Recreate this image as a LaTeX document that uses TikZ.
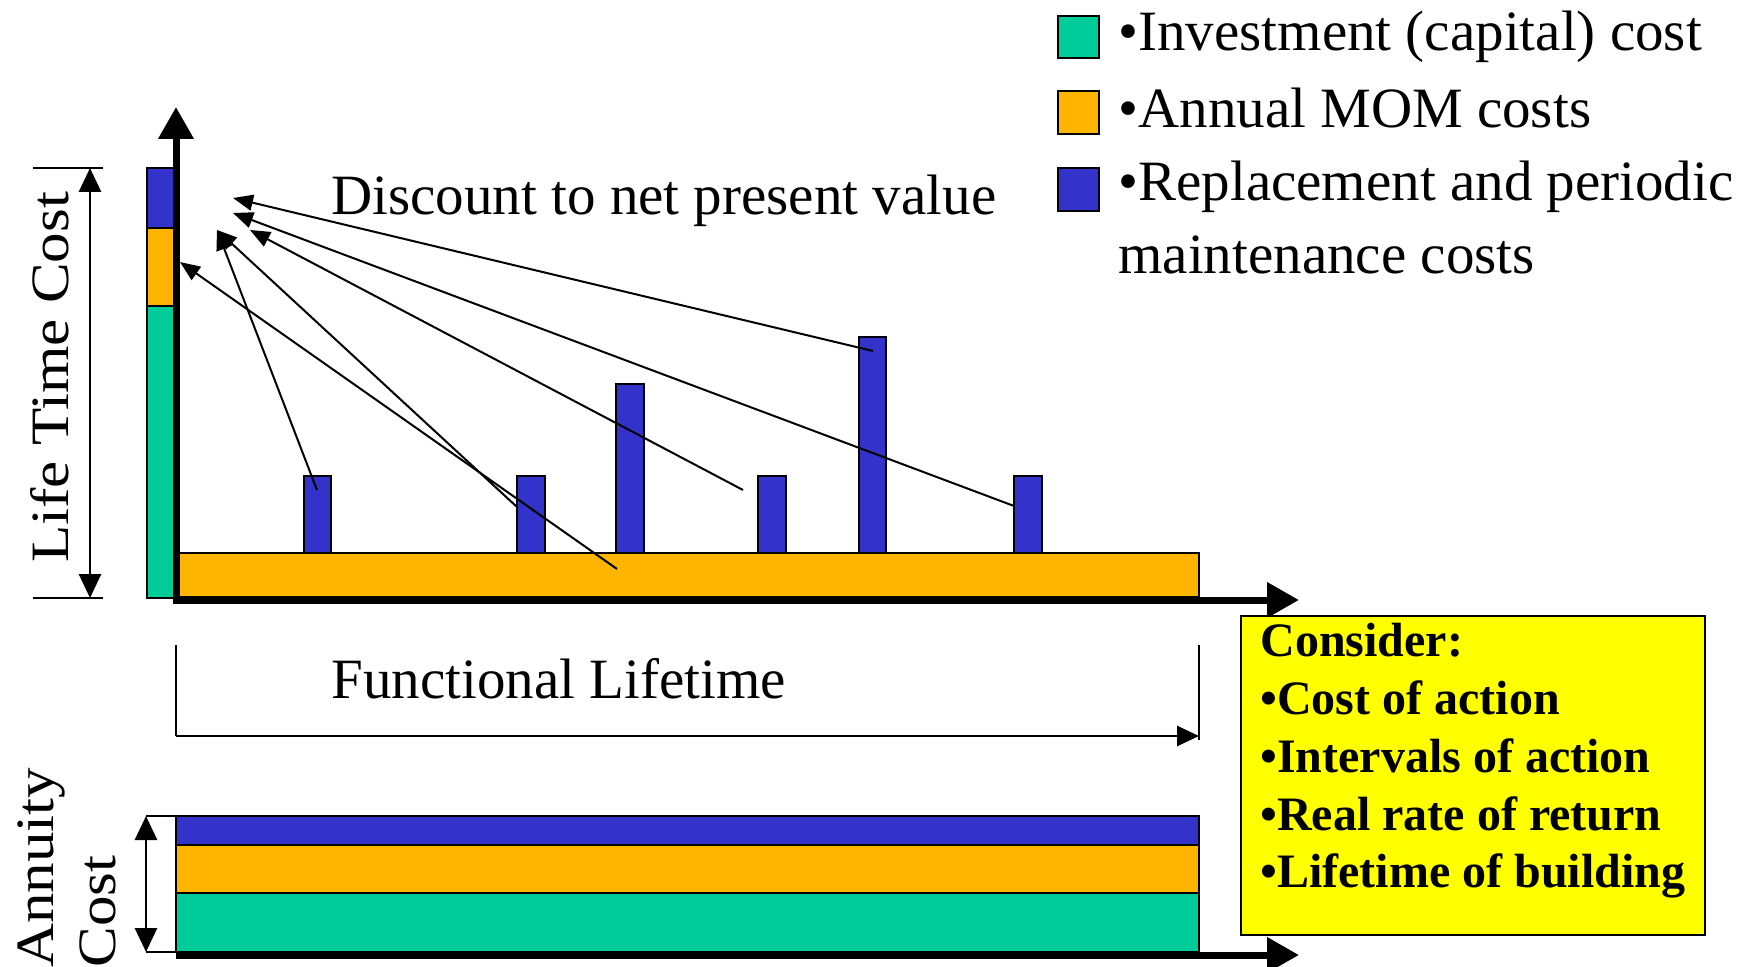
\documentclass[tikz,border=0pt]{standalone}
\usepackage{graphicx}
\usepackage{fontspec}
\setmainfont{Liberation Serif}
\usetikzlibrary{arrows.meta}
\definecolor{cgreen}{RGB}{0,204,153}
\definecolor{corange}{RGB}{255,180,0}
\definecolor{cblue}{RGB}{51,51,204}
\definecolor{cyellow}{RGB}{255,255,0}
\newcommand{\stretchtxt}[1]{\scalebox{1.13}[1]{#1}}
\begin{document}
\begin{tikzpicture}[x=0.5pt,y=-0.5pt,
  bar/.style={draw=black,line width=0.6pt},
  axisline/.style={line width=3.5pt,line join=miter},
  bigtip/.style={-{Triangle[length=16pt,width=17pt]}},
  disc/.style={line width=1pt,-{Triangle[length=10pt,width=8pt]}},
  dimarrow/.style={line width=1.4pt,{Triangle[length=12pt,width=11pt]}-{Triangle[length=12pt,width=11pt]}},
  tick/.style={line width=0.7pt},
  big/.style={inner sep=0pt,font=\fontsize{28.5}{37}\selectfont},
  sidetxt/.style={inner sep=0pt,rotate=90,anchor=base west,font=\fontsize{27}{34}\selectfont},
  boxtxt/.style={inner sep=0pt,font=\fontsize{24}{28.8}\selectfont\bfseries}]
\useasboundingbox (0,0) rectangle (1744,967);

% ---------- legend ----------
\filldraw[fill=cgreen,bar] (1058,16) rectangle (1099,58);
\filldraw[fill=corange,bar] (1058,91) rectangle (1099,134);
\filldraw[fill=cblue,bar] (1058,168) rectangle (1099,211);
\node[big,anchor=base west] (leg1) at (1118,51) {•Investment (capital) cost};
\node[big,anchor=base west] (leg2) at (1118,128) {•Annual MOM costs};
\node[big,anchor=base west] (leg3) at (1118,201) {•Replacement and periodic};
\node[big,anchor=base west] (leg4) at (1118,274) {maintenance costs};

% ---------- life time cost chart ----------
% left stacked bar
\filldraw[fill=cgreen,bar] (147,306) rectangle (174,598);
\filldraw[fill=corange,bar] (147,228) rectangle (174,306);
\filldraw[fill=cblue,bar] (147,168) rectangle (174,228);
% base orange bar
\filldraw[fill=corange,bar] (176,553) rectangle (1199,597);
% blue bars
\filldraw[fill=cblue,bar] (304,476) rectangle (331,553);
\filldraw[fill=cblue,bar] (517,476) rectangle (545,553);
\filldraw[fill=cblue,bar] (616,384) rectangle (644,553);
\filldraw[fill=cblue,bar] (758,476) rectangle (786,553);
\filldraw[fill=cblue,bar] (859,337) rectangle (886,553);
\filldraw[fill=cblue,bar] (1014,476) rectangle (1042,553);
% axes
\draw[axisline,{Triangle[length=16pt,width=17pt]}-{Triangle[length=16pt,width=17pt]}] (176,107) -- (176,600) -- (1299,600);

% discount arrows
\coordinate (t1) at (233,198);
\coordinate (t2) at (233,213);
\coordinate (t3) at (250,230);
\coordinate (t4) at (217,230);
\coordinate (t5) at (180,262);
\coordinate (s1) at (873,351);
\coordinate (s2) at (1014,506);
\coordinate (s3) at (743,490);
\coordinate (s4) at (317,490);
\coordinate (s5) at (517,507);
\coordinate (s6) at (617,569);
\draw[disc] (s1) -- (t1);
\draw[disc] (s2) -- (t2);
\draw[disc] (s3) -- (t3);
\draw[disc] (s4) -- (t4);
\draw[disc] (s5) -- (t4);
\draw[disc] (s6) -- (t5);
\node[big,anchor=base west] (disclbl) at (331,215) {Discount to net present value};

% Life Time Cost dimension
\coordinate (ltop) at (90,168);
\coordinate (lbot) at (90,598);
\draw[tick] (33,168) -- (103,168);
\draw[tick] (33,598) -- (103,598);
\draw[dimarrow] (ltop) -- (lbot);
\node[sidetxt] (ltc) at (68,563) {\stretchtxt{Life Time Cost}};

% Functional lifetime dimension
\coordinate (fl) at (176,736);
\coordinate (fr) at (1199,736);
\draw[tick,line width=0.9pt] (176,645) -- (fl);
\draw[tick,line width=0.9pt] (1199,645) -- (1199,740);
\draw[line width=1.4pt,-{Triangle[length=11pt,width=10pt]}] (fl) -- (fr);
\node[big,anchor=base west] (fltxt) at (331,698) {Functional Lifetime};

% ---------- annuity chart ----------
\filldraw[fill=cgreen,bar] (176,893) rectangle (1199,952);
\filldraw[fill=corange,bar] (176,845) rectangle (1199,893);
\filldraw[fill=cblue,bar] (176,816) rectangle (1199,845);
\draw[axisline,bigtip] (176,955) -- (1299,955);
\coordinate (atop) at (146,816);
\coordinate (abot) at (146,952);
\draw[tick] (146,816) -- (176,816);
\draw[tick] (146,952) -- (176,952);
\draw[dimarrow] (atop) -- (abot);
\node[sidetxt] (ann1) at (53,968) {\stretchtxt{Annuity}};
\node[sidetxt] (ann2) at (115,968) {\stretchtxt{Cost}};

% ---------- consider box ----------
\node[draw=black,line width=0.9pt,fill=cyellow,minimum width=232pt,minimum height=159.5pt,anchor=north west,inner sep=0pt] (box) at (1240,615) {};
\node[boxtxt,anchor=base west] (c1) at (1260,656) {Consider:};
\node[boxtxt,anchor=base west] (c2) at (1260,714) {•Cost of action};
\node[boxtxt,anchor=base west] (c3) at (1260,772) {•Intervals of action};
\node[boxtxt,anchor=base west] (c4) at (1260,830) {•Real rate of return};
\node[boxtxt,anchor=base west] (c5) at (1260,887) {•Lifetime of building};
\end{tikzpicture}
\end{document}
